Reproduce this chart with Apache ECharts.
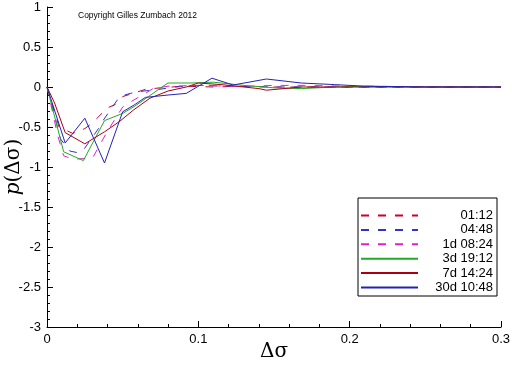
<!DOCTYPE html>
<html>
<head>
<meta charset="utf-8">
<script src="https://cdn.jsdelivr.net/npm/echarts@6/dist/echarts.min.js"></script>
<style>
  html, body { margin: 0; padding: 0; background: #fff; }
  #chart { width: 512px; height: 366px; }
</style>
</head>
<body>
<div id="chart"></div>
<script>
// Series names (legend order)
var seriesNames = ['01:12', '04:48', '1d 08:24', '3d 19:12', '7d 14:24', '30d 10:48'];

// [Δσ, p(Δσ)] points
var data0112 = [[0,0],[0.008,-0.5],[0.017,-0.58],[0.025,-0.52],[0.03,-0.45],[0.032,-0.41],[0.04,-0.26],[0.045,-0.22],[0.05,-0.12],[0.06,-0.06],[0.065,-0.03],[0.075,-0.01],[0.09,0.01],[0.11,0.0],[0.13,0.01],[0.15,0.0],[0.2,0.0],[0.3,0]];
var data0448 = [[0,0],[0.009,-0.65],[0.015,-0.8],[0.02,-0.82],[0.024,-0.79],[0.034,-0.52],[0.037,-0.42],[0.048,-0.12],[0.055,-0.08],[0.064,-0.05],[0.07,-0.04],[0.085,0.0],[0.1,0.02],[0.12,0.01],[0.15,0.0],[0.2,0],[0.3,0]];
var data1d0824 = [[0,0],[0.007,-0.6],[0.011,-0.86],[0.017,-0.9],[0.02,-0.9],[0.03,-0.89],[0.04,-0.55],[0.05,-0.25],[0.053,-0.21],[0.065,-0.08],[0.07,-0.02],[0.08,0.01],[0.1,0.02],[0.12,0.01],[0.135,0.01],[0.15,0.02],[0.17,0.02],[0.2,0.01],[0.3,0]];
var data3d1912 = [[0,0],[0.011,-0.81],[0.024,-0.92],[0.038,-0.42],[0.05,-0.33],[0.058,-0.24],[0.067,-0.12],[0.076,0.0],[0.08,0.05],[0.095,0.05],[0.11,0.06],[0.13,0.02],[0.15,-0.01],[0.168,-0.02],[0.19,0.0],[0.21,0.01],[0.25,0],[0.3,0]];
var data7d1424 = [[0,0],[0.005,-0.2],[0.012,-0.57],[0.025,-0.71],[0.038,-0.56],[0.048,-0.43],[0.057,-0.29],[0.068,-0.14],[0.08,-0.05],[0.092,0.0],[0.1,0.05],[0.115,0.03],[0.14,-0.02],[0.145,-0.04],[0.168,0.0],[0.2,0.0],[0.3,0]];
var data30d1048 = [[0,0],[0.012,-0.70],[0.025,-0.39],[0.038,-0.95],[0.05,-0.31],[0.058,-0.22],[0.065,-0.13],[0.08,-0.1],[0.092,-0.08],[0.109,0.11],[0.123,0.025],[0.145,0.10],[0.168,0.05],[0.19,0.03],[0.21,0.01],[0.25,0],[0.3,0]];

var allData = [data0112, data0448, data1d0824, data3d1912, data7d1424, data30d1048];
var colors = ['#cc0033', '#3333cc', '#dd22cc', '#22aa22', '#aa0011', '#2222bb'];
var dashed = [true, true, true, false, false, false];

var chart = echarts.init(document.getElementById('chart'));

var series = seriesNames.map(function (name, i) {
    return {
        name: name,
        type: 'line',
        data: allData[i],
        symbol: 'none',
        showSymbol: false,
        smooth: false,
        animation: false,
        lineStyle: {
            color: colors[i],
            width: 1,
            type: dashed[i] ? [8, 9] : 'solid'
        },
        itemStyle: { color: colors[i] }
    };
});

var axisFont = 'Liberation Sans, Arial, sans-serif';
var symFont = 'DejaVu Serif, serif';

chart.setOption({
    backgroundColor: '#fff',
    animation: false,
    grid: { left: 47, right: 11, top: 7, bottom: 39, containLabel: false, outerBoundsMode: 'none' },
    title: {
        text: 'Copyright Gilles Zumbach 2012',
        left: 78, top: 11,
        padding: 0,
        textStyle: { fontSize: 8.5, fontWeight: 'normal', color: '#000', fontFamily: axisFont }
    },
    legend: {
        orient: 'vertical',
        left: 358, top: 198,
        width: 139,
        padding: [11, 4, 2, 2],
        itemGap: 1.4,
        itemWidth: 57,
        itemHeight: 14,
        backgroundColor: '#fff',
        borderColor: '#000',
        borderWidth: 1,
        borderRadius: 0,
        selectedMode: false,
        itemStyle: { opacity: 0 },
        data: seriesNames,
        formatter: function (n) { return '{a|' + n + '}'; },
        textStyle: {
            rich: {
                a: { width: 70, align: 'right', fontSize: 13, fontFamily: axisFont, color: '#000' }
            }
        }
    },
    xAxis: {
        type: 'value',
        min: 0, max: 0.3, interval: 0.1,
        name: 'Δσ',
        nameLocation: 'middle',
        nameGap: 15,
        nameMoveOverlap: false,
        nameTextStyle: { fontSize: 20, color: '#000', fontFamily: symFont, verticalAlign: 'top' },
        axisLine: { show: true, onZero: false, lineStyle: { color: '#000', width: 1 } },
        axisTick: { show: true, inside: true, length: 6, lineStyle: { color: '#000' } },
        minorTick: { show: true, splitNumber: 5, length: 3, lineStyle: { color: '#000' } },
        splitLine: { show: false },
        axisLabel: { fontSize: 13, color: '#000', fontFamily: axisFont, margin: 6 }
    },
    yAxis: {
        type: 'value',
        min: -3, max: 1, interval: 0.5,
        name: '{i|p}{n|(Δσ)}',
        nameLocation: 'middle',
        nameGap: 23,
        nameMoveOverlap: false,
        nameTextStyle: {
            color: '#000',
            rich: {
                i: { fontSize: 20, fontStyle: 'italic', fontFamily: symFont, color: '#000' },
                n: { fontSize: 20, fontFamily: symFont, color: '#000' }
            }
        },
        axisLine: { show: true, onZero: false, lineStyle: { color: '#000', width: 1 } },
        axisTick: { show: true, inside: true, length: 6, lineStyle: { color: '#000' } },
        minorTick: { show: true, splitNumber: 5, length: 3, lineStyle: { color: '#000' } },
        splitLine: { show: false },
        axisLabel: { fontSize: 13, color: '#000', fontFamily: axisFont, margin: 6 }
    },
    series: series
});
</script>
</body>
</html>
